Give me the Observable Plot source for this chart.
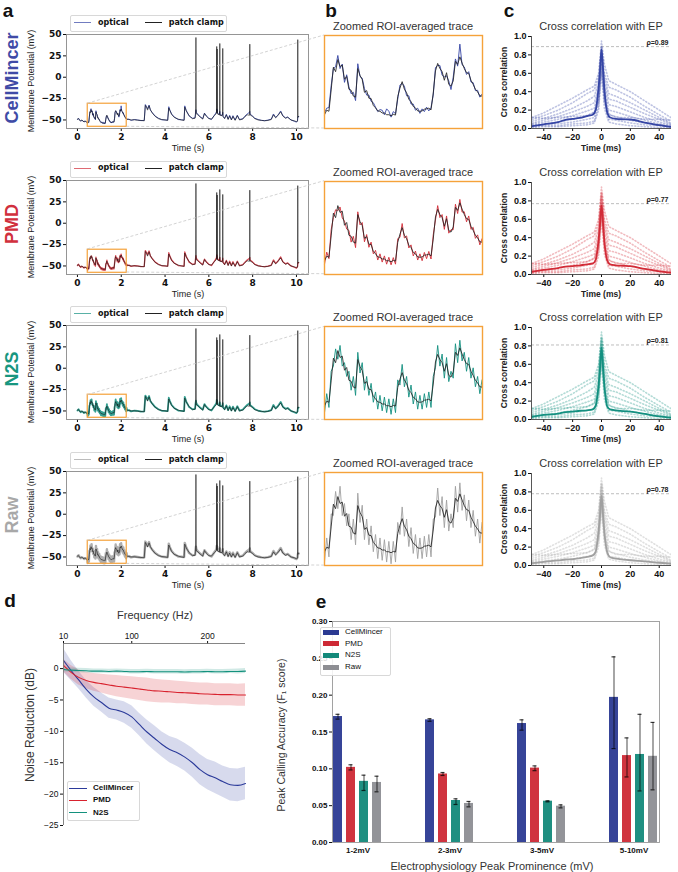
<!DOCTYPE html>
<html><head><meta charset="utf-8">
<script src="https://cdn.jsdelivr.net/npm/d3@7"></script>
<script src="https://cdn.jsdelivr.net/npm/@observablehq/plot@0.6"></script>
<style>
body{margin:0;background:#fff;}
#fig{position:relative;width:678px;height:872px;overflow:hidden;background:#fff;color:#111;font-family:"DejaVu Sans",sans-serif;}
#fig svg{background:transparent;}
.t{position:absolute;white-space:nowrap;line-height:1;}
.box{position:absolute;border:1px solid #d8d8d8;border-radius:2px;background:rgba(255,255,255,0.85);}
</style></head><body><div id="fig"></div>
<script>
// ---------------- DATA ----------------
const methodNames = ["CellMincer", "PMD", "N2S", "Raw"];
const methodLine = ["#3545a5", "#d22b37", "#139080", "#a0a0a0"];
const methodLabel = ["#3f4ba6", "#d1303d", "#17967f", "#a8a8a8"];
const methodBar = ["#2b3a92", "#cd2935", "#13897a", "#8d8e93"];

// panel a: full trace (s, mV)
const aTimeTicks = [0, 2, 4, 6, 8, 10];
const aVoltTicks = [-50, -25, 0, 25, 50];
const aTimeDomain = [-0.5, 10.55];
const aVoltDomain = [-60, 50];
const zoomWindow = [0.47, 2.25];
const zoomVolt = [-58, -31];

const preT = [0.0,0.05,0.1,0.15,0.2,0.25,0.3,0.35,0.4,0.45];
const preEP = [-49,-48.5,-50.5,-51,-50,-51.5,-52,-51,-52.5,-53.5];
const preOpt = [-49.5,-48,-50,-51.5,-50.5,-51,-52.5,-51.5,-52,-53];

const zoomT = [0.470,0.495,0.520,0.545,0.570,0.595,0.620,0.645,0.670,0.695,
0.720,0.745,0.770,0.795,0.820,0.845,0.870,0.895,0.920,0.945,
0.970,0.995,1.020,1.045,1.070,1.095,1.120,1.145,1.170,1.195,
1.220,1.245,1.270,1.295,1.320,1.345,1.370,1.395,1.420,1.445,
1.470,1.495,1.520,1.545,1.570,1.595,1.620,1.645,1.670,1.695,
1.720,1.745,1.770,1.795,1.820,1.845,1.870,1.895,1.920,1.945,
1.970,1.995,2.020,2.045,2.070,2.095,2.120,2.145,2.170,2.195,
2.220,2.245];
const zoomEP = [-54.0,-52.7,-53.0,-46.8,-40.2,-41.5,-38.0,-40.0,-39.6,-43.7,
-42.9,-46.6,-46.9,-48.6,-48.9,-40.6,-42.6,-43.8,-47.5,-47.0,
-49.2,-49.3,-51.3,-52.0,-52.9,-53.0,-53.5,-53.5,-54.0,-54.0,
-54.3,-53.9,-54.1,-48.7,-46.3,-44.4,-46.6,-47.6,-49.5,-50.2,
-51.6,-52.0,-52.9,-53.0,-52.9,-52.4,-52.3,-52.1,-52.6,-47.7,
-41.3,-39.1,-40.6,-41.5,-44.0,-41.8,-45.2,-45.7,-44.2,-38.5,
-39.4,-37.2,-39.0,-40.6,-41.8,-42.0,-44.0,-45.2,-46.6,-47.4,
-48.5,-48.6];
const zoomCellMincer = [-53.4,-52.1,-51.9,-45.6,-40.6,-40.1,-36.8,-40.6,-39.3,-44.6,
-42.4,-45.9,-47.9,-47.5,-49.9,-39.2,-42.9,-43.4,-46.4,-48.3,
-48.3,-50.1,-50.5,-51.8,-53.1,-52.5,-52.7,-54.0,-52.3,-53.0,
-54.7,-53.1,-53.7,-49.5,-45.4,-44.9,-45.7,-48.5,-48.5,-50.9,
-50.9,-52.7,-52.1,-53.6,-52.3,-53.1,-51.8,-52.9,-51.9,-48.3,
-40.3,-39.7,-39.7,-42.5,-43.0,-42.7,-44.2,-46.7,-43.1,-37.8,
-39.9,-33.5,-39.5,-40.1,-42.3,-41.5,-44.5,-44.7,-47.0,-46.9,
-48.9,-48.0];
const zoomPMD = [-55.0,-51.5,-53.4,-45.0,-41.5,-39.2,-39.5,-38.4,-41.6,-42.5,
-44.8,-45.2,-48.6,-46.9,-50.2,-39.8,-43.6,-42.9,-48.5,-46.4,
-50.1,-48.6,-52.0,-51.0,-53.8,-52.0,-54.4,-52.6,-55.0,-53.0,
-55.2,-53.1,-55.0,-47.6,-47.2,-43.2,-47.4,-46.8,-50.3,-49.4,
-52.6,-51.2,-53.8,-52.0,-54.0,-51.6,-53.4,-51.3,-53.5,-46.5,
-42.2,-38.0,-41.5,-40.6,-44.9,-41.0,-46.0,-45.0,-45.0,-37.6,
-40.3,-36.2,-39.9,-39.8,-42.7,-41.0,-44.9,-44.3,-47.5,-46.5,
-49.4,-47.6];
const zoomN2S = [-56.0,-50.5,-54.5,-44.0,-42.5,-37.5,-40.5,-36.5,-42.5,-41.5,
-45.5,-44.0,-49.5,-45.5,-51.0,-38.5,-44.5,-41.5,-49.5,-45.5,
-51.0,-47.5,-53.0,-50.0,-55.0,-51.0,-55.5,-51.5,-56.0,-52.0,
-56.5,-52.0,-56.0,-46.5,-48.0,-42.0,-48.5,-45.5,-51.5,-48.0,
-53.5,-50.0,-55.0,-51.0,-55.0,-50.5,-54.5,-50.0,-54.5,-45.5,
-43.0,-36.5,-42.5,-39.0,-46.0,-40.0,-47.0,-44.0,-46.0,-36.0,
-41.5,-35.0,-41.0,-38.5,-44.0,-40.0,-46.0,-43.0,-48.5,-45.5,
-50.5,-46.5];
const zoomRaw = [-57.0,-50.0,-55.5,-43.0,-43.5,-36.5,-41.5,-35.0,-43.5,-40.0,
-46.5,-43.0,-50.5,-44.5,-52.0,-37.0,-45.5,-40.5,-50.5,-44.5,
-52.0,-46.5,-54.0,-49.0,-56.0,-50.0,-56.5,-50.5,-57.0,-51.0,
-57.5,-51.0,-57.0,-45.5,-49.0,-41.0,-49.5,-44.5,-52.5,-47.0,
-54.5,-49.0,-56.0,-50.0,-56.0,-49.5,-55.5,-49.0,-55.5,-44.5,
-44.0,-35.5,-43.5,-38.0,-47.0,-39.0,-48.0,-43.0,-47.0,-35.0,
-42.5,-34.0,-42.0,-37.5,-45.0,-39.0,-47.0,-42.0,-49.5,-44.5,
-51.5,-45.5];

const postT = [2.27,2.35,2.45,2.6,2.75,2.9,3.05,3.1,3.15,3.2,
3.27,3.33,3.42,3.55,3.7,3.85,4.0,4.12,4.17,4.22,
4.3,4.42,4.6,4.75,4.87,4.9,4.97,5.1,5.25,5.37,
5.39,5.41,5.43,5.5,5.6,5.72,5.8,5.88,6.0,6.12,
6.25,6.32,6.35,6.36,6.37,6.38,6.39,6.4,6.47,6.49,
6.5,6.51,6.6,6.625,6.635,6.645,6.72,6.8,6.88,6.95,
7.03,7.1,7.2,7.3,7.4,7.55,7.65,7.75,7.86,7.87,
7.88,8.0,8.1,8.25,8.4,8.55,8.7,8.85,8.95,9.05,
9.15,9.28,9.38,9.5,9.6,9.75,9.9,10.0,10.05,10.06,
10.07,10.1];
const postEP = [-49,-49.5,-50,-49.8,-50.3,-50.6,-51,-33,-35,-38.5,
-33.5,-38,-42,-45.8,-48.5,-49.5,-50,-50.5,-36,-39,
-43.5,-47,-49,-50,-50.5,-35,-39.5,-45,-48.5,-48,
-44,46.5,-43,-44,-46.5,-49,-42.5,-45.5,-48.5,-49,
-45,-43,-42,36,-42,33,-43,-43,-44,-44,
39.5,-44.5,-45,-44,33.7,-46,-48.5,-44,-49.5,-45.5,
-50,-46,-50.5,-45,-50,-49,-46,-44,-44.5,38.7,
-44,-46,-48.5,-50,-50.5,-51,-50.5,-49.5,-44,-47.5,
-45,-40.5,-45.5,-48,-47,-50,-51,-52,-51.5,44,
-47,-46];
const postOpt = [-49.5,-49,-50.5,-49.5,-50,-50.8,-50.5,-32,-34,-37,
-32.5,-38.5,-41.5,-45.5,-48,-49.8,-50,-50.3,-34.5,-38.5,
-43,-46.5,-49.5,-49.8,-50.2,-33.5,-39,-45.5,-48,-47.5,
-42,-38,-41,-43.5,-46,-48.5,-42,-45,-48,-49.5,
-44.5,-42,-40,-37,-40,-38,-41,-42,-43.5,-42,
-40,-44,-44.5,-43,-41,-45.5,-48,-43.5,-49,-44.5,
-49.5,-45,-50,-44.5,-49.5,-48.5,-45.5,-43,-41,-40,
-43,-45.5,-48,-49.5,-50.5,-50.8,-50.2,-49,-43,-47,
-44.5,-39.5,-45,-47.5,-46.5,-50,-51.5,-52.5,-50.5,-48,
-46,-46];

// panel c: cross correlation (lag in ms)
const ccDomain = [-48.5, 48.5];
const ccTicks = [-40, -20, 0, 20, 40];
const ccYTicks = [0, 0.2, 0.4, 0.6, 0.8, 1.0];
const ccLags = [-48,-40,-30,-20,-10,-5,-2,0,2,5,10,20,30,40,48];
const ccTrial1 = [0.12,0.17,0.25,0.33,0.42,0.46,0.6,0.95,0.7,0.52,0.48,0.4,0.3,0.2,0.12];
const ccTrial2 = [0.10,0.14,0.2,0.28,0.38,0.42,0.55,0.9,0.6,0.45,0.42,0.34,0.24,0.15,0.08];
const ccTrial3 = [0.08,0.11,0.16,0.22,0.3,0.35,0.5,0.88,0.55,0.38,0.35,0.28,0.2,0.12,0.06];
const ccTrial4 = [0.06,0.09,0.13,0.18,0.24,0.28,0.45,0.85,0.5,0.32,0.3,0.23,0.16,0.1,0.05];
const ccTrial5 = [0.05,0.07,0.1,0.14,0.19,0.22,0.4,0.82,0.45,0.26,0.24,0.18,0.12,0.07,0.04];
const ccTrial6 = [0.04,0.05,0.07,0.1,0.14,0.17,0.35,0.78,0.4,0.2,0.18,0.13,0.09,0.05,0.03];
const ccTrial7 = [0.03,0.04,0.05,0.07,0.1,0.12,0.3,0.75,0.35,0.15,0.13,0.09,0.06,0.04,0.02];
const ccTrial8 = [0.02,0.03,0.03,0.05,0.06,0.08,0.25,0.7,0.3,0.1,0.09,0.06,0.04,0.03,0.02];
const ccTrial9 = [0.12,0.11,0.12,0.13,0.14,0.18,0.3,0.65,0.32,0.16,0.12,0.12,0.1,0.1,0.09];
const ccTrial10 = [0.01,0.02,0.02,0.03,0.04,0.06,0.2,0.6,0.22,0.07,0.05,0.03,0.02,0.01,0.01];
const ccMeanLags = [-48,-40,-30,-25,-20,-15,-10,-6,-4,-2,-1,0,1,2,4,6,10,15,20,30,40,48];
const ccMeanCellMincer = [0.025,0.046,0.07,0.095,0.105,0.115,0.135,0.15,0.2,0.45,0.63,0.86,0.66,0.43,0.17,0.12,0.105,0.1,0.098,0.065,0.036,0.018];
const ccMeanPMD = [0.03,0.05,0.07,0.085,0.09,0.1,0.11,0.12,0.16,0.38,0.55,0.75,0.57,0.36,0.15,0.11,0.1,0.095,0.09,0.06,0.035,0.02];
const ccMeanN2S = [0.03,0.05,0.065,0.08,0.085,0.095,0.1,0.11,0.15,0.38,0.56,0.78,0.58,0.37,0.14,0.11,0.1,0.09,0.085,0.06,0.035,0.02];
const ccMeanRaw = [0.025,0.04,0.055,0.065,0.068,0.08,0.094,0.11,0.15,0.38,0.55,0.76,0.56,0.36,0.14,0.09,0.075,0.065,0.057,0.045,0.03,0.02];
const ccRho = [0.89, 0.77, 0.81, 0.78];

// panel d: noise reduction (dB) vs frequency (Hz)
const dFreqDomain = [10, 250];
const dFreqTicks = [10, 100, 200];
const dDbDomain = [-25, 4];
const dDbTicks = [0, -5, -10, -15, -20, -25];
const dFreq = [10,20,30,40,50,60,70,80,90,100,110,120,130,140,150,160,170,180,190,200,210,220,230,240,250];
const dCellMincer = [1.3,-0.3,-1.8,-3.3,-4.5,-5.4,-6.3,-6.6,-7.0,-7.7,-8.9,-10.1,-11.1,-12.1,-12.9,-13.4,-14.1,-15.0,-16.1,-16.9,-17.4,-18.0,-18.5,-18.6,-18.3];
const dCellMincerHi = [3.2,1.3,-0.4,-1.9,-3.0,-3.9,-4.7,-5.0,-5.3,-5.9,-7.1,-8.2,-9.1,-10.1,-10.8,-11.2,-11.9,-12.7,-13.7,-14.5,-14.9,-15.5,-15.9,-16.0,-15.7];
const dCellMincerLo = [-0.6,-1.9,-3.2,-4.7,-6.0,-6.9,-7.9,-8.2,-8.7,-9.5,-10.7,-12.0,-13.1,-14.1,-15.0,-15.6,-16.3,-17.3,-18.5,-19.3,-19.9,-20.5,-21.1,-21.2,-20.9];
const dPMD = [0.5,-0.6,-1.4,-1.9,-2.2,-2.4,-2.6,-2.8,-2.95,-3.1,-3.25,-3.4,-3.55,-3.6,-3.7,-3.8,-3.85,-3.9,-4.0,-4.05,-4.1,-4.15,-4.15,-4.2,-4.2];
const dPMDHi = [1.5,0.5,-0.2,-0.6,-0.8,-0.9,-1.0,-1.1,-1.2,-1.3,-1.4,-1.5,-1.7,-1.8,-1.9,-2.0,-2.1,-2.2,-2.3,-2.3,-2.4,-2.4,-2.4,-2.5,-2.4];
const dPMDLo = [-0.5,-1.7,-2.6,-3.2,-3.6,-3.9,-4.2,-4.5,-4.7,-4.9,-5.1,-5.3,-5.4,-5.5,-5.5,-5.6,-5.6,-5.7,-5.8,-5.8,-5.9,-5.9,-5.9,-6.0,-6.0];
const dN2S = [-0.15,-0.25,-0.3,-0.35,-0.4,-0.4,-0.45,-0.4,-0.45,-0.5,-0.5,-0.45,-0.5,-0.5,-0.5,-0.5,-0.55,-0.5,-0.5,-0.45,-0.5,-0.5,-0.45,-0.45,-0.4];
const dN2SHi = [0.2,0.1,0.05,0.0,-0.05,-0.05,-0.1,-0.05,-0.1,-0.15,-0.15,-0.1,-0.15,-0.15,-0.15,-0.15,-0.2,-0.15,-0.15,-0.1,-0.15,-0.15,-0.1,-0.05,0.0];
const dN2SLo = [-0.5,-0.6,-0.65,-0.7,-0.75,-0.75,-0.8,-0.75,-0.8,-0.85,-0.85,-0.8,-0.85,-0.85,-0.85,-0.85,-0.9,-0.85,-0.85,-0.8,-0.85,-0.85,-0.8,-0.85,-0.8];

// panel e: peak calling accuracy (F1)
const eGroups = ["1-2mV", "2-3mV", "3-5mV", "5-10mV"];
const eYTicks = [0, 0.05, 0.10, 0.15, 0.20, 0.25, 0.30];
const eCellMincer = [0.171, 0.1665, 0.1615, 0.197];
const eCellMincerLo = [0.1675, 0.1645, 0.1525, 0.1275];
const eCellMincerHi = [0.174, 0.168, 0.1665, 0.252];
const ePMD = [0.102, 0.093, 0.101, 0.118];
const ePMDLo = [0.0985, 0.091, 0.0975, 0.089];
const ePMDHi = [0.1055, 0.095, 0.104, 0.142];
const eN2S = [0.083, 0.057, 0.0561, 0.1195];
const eN2SLo = [0.0706, 0.0516, 0.0552, 0.070];
const eN2SHi = [0.0914, 0.0593, 0.0566, 0.174];
const eRaw = [0.0815, 0.053, 0.0493, 0.117];
const eRawLo = [0.0688, 0.0484, 0.047, 0.0715];
const eRawHi = [0.090, 0.0557, 0.0511, 0.163];

// ---------------- LAYOUT HELPERS ----------------
const ROW = 145.7;
const ORANGE = "#f5a23a";
const fig = document.getElementById("fig");
function put(node, left, top) {
  node.style.position = "absolute";
  node.style.left = left + "px";
  node.style.top = top + "px";
  fig.appendChild(node);
  return node;
}
function txt(str, cx, cy, css, rot) {
  const d = document.createElement("div");
  d.className = "t";
  d.textContent = str;
  d.style.left = cx + "px";
  d.style.top = cy + "px";
  d.style.transform = "translate(-50%,-50%)" + (rot ? " rotate(-90deg)" : "");
  d.style.cssText += ";" + css;
  fig.appendChild(d);
  return d;
}
function box(left, top, w, h) {
  const d = document.createElement("div");
  d.className = "box";
  Object.assign(d.style, {left: left + "px", top: top + "px", width: w + "px", height: h + "px"});
  fig.appendChild(d);
  return d;
}
function rows(ts, vs) { return ts.map((t, i) => ({t, v: vs[i]})).filter(d => d.v != null && d.t != null); }
function lin(chart, name) { const s = chart.scale(name); return d3.scaleLinear(s.domain, s.range); }

const fullT = preT.concat(zoomT, postT);
const fullEP = preEP.concat(zoomEP, postEP);
const zoomByMethod = [zoomCellMincer, zoomPMD, zoomN2S, zoomRaw];
const aWidths = [1.0, 1.3, 1.8, 2.4];
const ccMeans = [ccMeanCellMincer, ccMeanPMD, ccMeanN2S, ccMeanRaw];
const ccTrials = [ccTrial1, ccTrial2, ccTrial3, ccTrial4, ccTrial5, ccTrial6, ccTrial7, ccTrial8, ccTrial9, ccTrial10];
const trialRows = [];
ccTrials.forEach((arr, k) => ccLags.forEach((lag, i) => trialRows.push({trial: k, lag, r: arr[i]})));

const styleA = {fontFamily: "DejaVu Sans", fontSize: "9px", fontWeight: "bold", color: "#111", background: "transparent", overflow: "visible"};
const styleC = {fontFamily: "Liberation Sans", fontSize: "9px", fontWeight: "bold", color: "#111", background: "transparent", overflow: "visible"};

const overlay = [];
const letterCss = "font-family:'Liberation Sans';font-weight:bold;font-size:19px;color:#111;";

txt("a", 8, 10, letterCss);
txt("b", 331, 10, letterCss);
txt("c", 509, 10, letterCss);

methodNames.forEach((name, r) => {
  const dy = r * ROW;
  const col = methodLine[r];
  const optFull = preOpt.concat(zoomByMethod[r], postOpt);
  const epRows = rows(fullT, fullEP);
  const opRows = rows(fullT, optFull);

  // ---- panel a ----
  const aChart = Plot.plot({
    width: 320, height: 160,
    marginLeft: 66, marginRight: 12, marginTop: 34, marginBottom: 32,
    style: styleA,
    x: {domain: aTimeDomain, ticks: aTimeTicks, tickFormat: d3.format("d"), tickSize: 3, tickPadding: 2, label: null},
    y: {domain: aVoltDomain, ticks: aVoltTicks, tickFormat: d3.format("d"), tickSize: 3, tickPadding: 2, label: null},
    marks: [
      Plot.line(opRows, {x: "t", y: "v", stroke: col, strokeWidth: aWidths[r], strokeOpacity: 0.85}),
      Plot.line(epRows, {x: "t", y: "v", stroke: "#111", strokeWidth: 0.6}),
      Plot.rect([{t0: zoomWindow[0], t1: zoomWindow[1], v0: zoomVolt[0], v1: zoomVolt[1]}],
        {x1: "t0", x2: "t1", y1: "v0", y2: "v1", fill: "none", stroke: ORANGE, strokeWidth: 1.2}),
      Plot.frame({stroke: "#8a8a8a", strokeWidth: 0.9})
    ]
  });
  put(aChart, 0, dy);

  // legend for a
  box(70, dy + 15, 155, 15);
  const lg = document.createElement("div");
  lg.className = "t";
  lg.style.cssText = `left:74px;top:${dy + 17.5}px;font-family:'DejaVu Sans';font-weight:bold;font-size:8px;color:#111;display:flex;align-items:center;height:10px;`;
  lg.innerHTML = `<span style="display:inline-block;width:17px;border-top:1px solid ${col};opacity:0.7;margin-right:7px"></span><span>optical</span>` +
    `<span style="display:inline-block;width:17px;border-top:1px solid #222;margin:0 7px 0 16px"></span><span>patch clamp</span>`;
  fig.appendChild(lg);

  txt(name, 12, dy + 78, `font-family:'Liberation Sans';font-weight:bold;font-size:18px;color:${methodLabel[r]};`, true);
  txt("Membrane Potential (mV)", 31, dy + 81, "font-family:'Liberation Sans';font-size:9px;color:#222;", true);
  txt("Time (s)", 188, dy + 148, "font-family:'Liberation Sans';font-size:9px;color:#222;");

  // ---- panel b ----
  const bChart = Plot.plot({
    width: 170, height: 160,
    marginLeft: 6, marginRight: 6, marginTop: 35, marginBottom: 32,
    style: styleA,
    x: {domain: zoomWindow, axis: null},
    y: {domain: zoomVolt, axis: null},
    marks: [
      Plot.line(rows(zoomT, zoomByMethod[r]), {x: "t", y: "v", stroke: col, strokeWidth: 0.9}),
      Plot.line(rows(zoomT, zoomEP), {x: "t", y: "v", stroke: "#222", strokeWidth: 0.85}),
      Plot.frame({stroke: ORANGE, strokeWidth: 1.4})
    ]
  });
  put(bChart, 318, dy);
  txt("Zoomed ROI-averaged trace", 403, dy + 26, "font-family:'Liberation Sans';font-size:11px;color:#333;");

  overlay.push({aChart, bChart, dy});

  // ---- panel c ----
  const meanRows = ccMeanLags.map((lag, i) => ({lag, r: ccMeans[r][i]}));
  const cChart = Plot.plot({
    width: 188, height: 160,
    marginLeft: 41, marginRight: 7, marginTop: 36, marginBottom: 32,
    style: styleC,
    x: {domain: ccDomain, ticks: ccTicks, tickFormat: d3.format("d"), tickSize: 3, tickPadding: 2, label: null},
    y: {domain: [0, 1], ticks: ccYTicks, tickFormat: d3.format(".1f"), tickSize: 3, tickPadding: 2, label: null},
    marks: [
      Plot.ruleY([ccRho[r]], {stroke: "#bdbdbd", strokeWidth: 1, strokeDasharray: "3 2"}),
      Plot.line(trialRows, {x: "lag", y: "r", z: "trial", stroke: col, strokeOpacity: 0.32, strokeWidth: 1.6, strokeDasharray: "1 2.2", clip: true}),
      Plot.line(meanRows, {x: "lag", y: "r", stroke: col, strokeWidth: 1.8, curve: "monotone-x", clip: true}),
      Plot.text([ccRho[r]], {y: d => d, text: d => "ρ=" + d.toFixed(2), frameAnchor: "right", textAnchor: "end", dx: -3, dy: -4, fontSize: 7, fontWeight: "bold", fill: "#222"}),
      Plot.ruleX([ccDomain[0]], {stroke: "#444", strokeWidth: 0.9}),
      Plot.ruleY([0], {stroke: "#444", strokeWidth: 0.9})
    ]
  });
  put(cChart, 490, dy);
  txt("Cross correlation with EP", 601, dy + 26, "font-family:'Liberation Sans';font-size:11px;color:#333;");
  txt("Cross correlation", 504, dy + 82, "font-family:'Liberation Sans';font-weight:bold;font-size:8.5px;color:#222;", true);
  txt("Time (ms)", 601, dy + 148, "font-family:'Liberation Sans';font-weight:bold;font-size:8.5px;color:#222;");
});

// connectors (mark_inset style)
const ov = d3.create("svg").attr("width", 678).attr("height", 872)
  .style("position", "absolute").style("left", "0px").style("top", "0px").style("pointer-events", "none");
overlay.forEach(({aChart, bChart, dy}) => {
  const ax = lin(aChart, "x"), ay = lin(aChart, "y");
  const bx = lin(bChart, "x"), by = lin(bChart, "y");
  const segs = [
    [ax(zoomWindow[0]), ay(zoomVolt[1]), 318 + bx(zoomWindow[0]), by(zoomVolt[1])],
    [ax(zoomWindow[1]), ay(zoomVolt[0]), 318 + bx(zoomWindow[0]), by(zoomVolt[0])]
  ];
  segs.forEach(([x1, y1, x2, y2]) => ov.append("line")
    .attr("x1", x1).attr("y1", dy + y1).attr("x2", x2).attr("y2", dy + y2)
    .attr("stroke", "#c8c8c8").attr("stroke-width", 0.8).attr("stroke-dasharray", "3 2"));
});

// ---------------- panel d ----------------
txt("d", 10, 600, letterCss);
const dSeries = [
  {name: "CellMincer", color: "#2b3a9a", band: "#3545a5", m: dCellMincer, lo: dCellMincerLo, hi: dCellMincerHi},
  {name: "PMD", color: "#d8222e", band: "#d8222e", m: dPMD, lo: dPMDLo, hi: dPMDHi},
  {name: "N2S", color: "#13917d", band: "#13917d", m: dN2S, lo: dN2SLo, hi: dN2SHi}
];
const dMarks = [];
dSeries.forEach(s => {
  const rr = dFreq.map((f, i) => ({f, m: s.m[i], lo: s.lo[i], hi: s.hi[i]}));
  dMarks.push(Plot.areaY(rr, {x: "f", y1: "lo", y2: "hi", fill: s.band, fillOpacity: 0.2}));
});
dSeries.forEach(s => {
  const rr = dFreq.map((f, i) => ({f, m: s.m[i]}));
  dMarks.push(Plot.line(rr, {x: "f", y: "m", stroke: s.color, strokeWidth: 1.1, curve: "monotone-x"}));
});
dMarks.push(Plot.ruleX([dFreqDomain[0]], {stroke: "#777", strokeWidth: 0.9}));
dMarks.push(Plot.ruleY([dDbDomain[1]], {stroke: "#777", strokeWidth: 0.9}));
const dChart = Plot.plot({
  width: 260, height: 240,
  marginLeft: 63, marginRight: 15, marginTop: 53, marginBottom: 5,
  style: {fontFamily: "Liberation Sans", fontSize: "8.5px", color: "#111", background: "transparent", overflow: "visible"},
  x: {domain: dFreqDomain, ticks: dFreqTicks, tickFormat: d3.format("d"), axis: "top", tickSize: 3, tickPadding: 2, label: null},
  y: {domain: dDbDomain, ticks: dDbTicks, tickFormat: d3.format("d"), tickSize: 3, tickPadding: 2, label: null},
  marks: dMarks
});
put(dChart, 0, 590);
txt("Frequency (Hz)", 155, 615, "font-family:'Liberation Sans';font-size:11px;color:#333;");
txt("Noise Reduction (dB)", 30, 725, "font-family:'Liberation Sans';font-size:12px;color:#333;", true);
box(67, 781, 71, 38);
dSeries.forEach((s, i) => {
  const d = document.createElement("div");
  d.className = "t";
  d.style.cssText = `left:69px;top:${783 + i * 12.3}px;font-family:'Liberation Sans';font-weight:bold;font-size:8px;color:#111;display:flex;align-items:center;height:10px;`;
  d.innerHTML = `<span style="display:inline-block;width:18px;border-top:1.2px solid ${s.color};margin-right:6px"></span><span>${s.name}</span>`;
  fig.appendChild(d);
});

// ---------------- panel e ----------------
txt("e", 321, 601, letterCss);
const eVals = [eCellMincer, ePMD, eN2S, eRaw];
const eLos = [eCellMincerLo, ePMDLo, eN2SLo, eRawLo];
const eHis = [eCellMincerHi, ePMDHi, eN2SHi, eRawHi];
const eRows = [];
eGroups.forEach((g, gi) => methodNames.forEach((m, mi) =>
  eRows.push({group: g, method: m, value: eVals[mi][gi], lo: eLos[mi][gi], hi: eHis[mi][gi]})));
const eChart = Plot.plot({
  width: 408, height: 262,
  marginLeft: 49, marginRight: 6, marginTop: 21, marginBottom: 20,
  style: {fontFamily: "Liberation Sans", fontSize: "8px", fontWeight: "bold", color: "#111", background: "transparent", overflow: "visible"},
  fx: {domain: eGroups, paddingInner: 0.45, paddingOuter: 0.14, axis: "bottom", label: null, tickSize: 0, tickPadding: 5},
  x: {domain: methodNames, paddingInner: 0.3, paddingOuter: 0, axis: null},
  y: {domain: [0, 0.3], ticks: eYTicks, tickFormat: d3.format(".2f"), tickSize: 3, tickPadding: 2, label: null},
  color: {domain: methodNames, range: methodBar},
  marks: [
    Plot.barY(eRows, {fx: "group", x: "method", y: "value", fill: "method", fillOpacity: 0.95}),
    Plot.ruleX(eRows, {fx: "group", x: "method", y1: "lo", y2: "hi", stroke: "#000", strokeOpacity: 0.5, strokeWidth: 1.4}),
    Plot.tickY(eRows, {fx: "group", x: "method", y: "hi", stroke: "#000", strokeOpacity: 0.75, strokeWidth: 1.2, insetLeft: 2.5, insetRight: 2.5}),
    Plot.tickY(eRows, {fx: "group", x: "method", y: "lo", stroke: "#000", strokeOpacity: 0.75, strokeWidth: 1.2, insetLeft: 2.5, insetRight: 2.5}),
    Plot.frame({stroke: "#999", strokeWidth: 0.9, facet: "super"})
  ]
});
put(eChart, 270, 600);
txt("Peak Calling Accuracy (F₁ score)", 281, 735, "font-family:'Liberation Sans';font-size:10.5px;color:#333;", true);
txt("Electrophysiology Peak Prominence (mV)", 492, 866, "font-family:'Liberation Sans';font-size:11px;color:#333;");
box(320, 627, 69, 47);
methodNames.forEach((m, i) => {
  const d = document.createElement("div");
  d.className = "t";
  d.style.cssText = `left:323px;top:${627 + i * 11.7}px;font-family:'Liberation Sans';font-size:8px;color:#111;display:flex;align-items:center;height:10px;`;
  d.innerHTML = `<span style="display:inline-block;width:16px;height:5px;background:${methodBar[i]};margin-right:6px"></span><span>${m}</span>`;
  fig.appendChild(d);
});

fig.appendChild(ov.node());
</script></body></html>
